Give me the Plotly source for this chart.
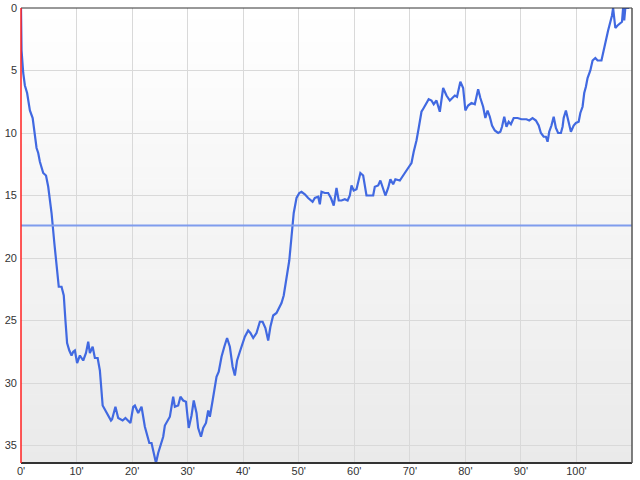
import plotly.graph_objects as go

# minutes and position values
minutes = [0, 0.1, 0.4, 0.7, 1.1, 1.6, 2.1, 2.3, 2.8, 3.1, 3.4, 4.0, 4.5, 4.9, 5.5, 6.0, 6.4, 6.8,
           7.3, 7.7, 8.0, 8.3, 8.7, 9.1, 9.4, 9.7, 10.1, 10.6, 11.2, 11.7, 12.1, 12.4, 12.9, 13.3,
           13.8, 14.2, 14.7, 15.7, 16.2, 16.4, 17.0, 17.5, 18.3, 18.8, 19.7, 20.2, 20.5, 21.1,
           21.7, 22.3, 23.1, 23.5, 24.3, 24.7, 25.1, 25.6, 25.9, 26.5, 26.8, 27.4, 27.7, 28.3,
           28.7, 29.2, 29.7, 30.2, 30.7, 31.1, 31.6, 31.9, 32.4, 32.8, 33.3, 33.7, 34.0, 34.5,
           34.8, 35.2, 35.6, 36.1, 36.6, 37.1, 37.6, 38.1, 38.5, 38.9, 39.4, 39.9, 40.3, 40.9,
           41.3, 41.8, 42.4, 43.0, 43.5, 44.0, 44.5, 44.9, 45.4, 46.0, 46.5, 46.9, 47.3, 47.8,
           48.3, 48.7, 49.1, 49.6, 50.1, 50.5, 51.1, 51.7, 52.5, 52.9, 53.5, 53.8, 54.1, 54.7,
           55.3, 55.8, 56.3, 56.8, 57.2, 57.7, 58.3, 58.8, 59.2, 59.5, 59.9, 60.4, 60.7, 61.1,
           61.6, 61.9, 62.2, 62.8, 63.4, 63.7, 64.3, 64.7, 65.2, 65.6, 66.1, 66.5, 67.0, 67.4,
           68.2, 68.6, 69.1, 69.7, 70.3, 70.7, 71.2, 71.6, 72.1, 72.5, 73.0, 73.4, 73.9, 74.3,
           74.8, 75.4, 76.0, 76.6, 77.2, 77.6, 78.1, 78.5, 79.1, 79.6, 80.0, 80.5, 81.1, 81.7,
           82.3, 82.7, 83.2, 83.6, 84.0, 84.4, 84.8, 85.3, 85.9, 86.3, 86.6, 87.0, 87.4, 87.8,
           88.2, 88.7, 89.4, 90.1, 91.0, 91.5, 92.1, 92.7, 93.2, 93.6, 94.1, 94.5, 94.8, 95.1,
           95.5, 95.9, 96.3, 96.7, 97.2, 97.5, 97.7, 98.1, 98.6, 99.0, 99.5, 99.9, 100.4, 100.7,
           101.1, 101.4, 101.7, 102.0, 102.5, 102.9, 103.4, 103.8, 104.5, 104.9, 105.3, 105.7,
           106.1, 106.4, 106.6, 106.8, 107.0, 107.4, 107.9, 108.2, 108.4, 108.6, 108.8, 109.5]
position = [0, 3.4, 5.2, 6.2, 6.8, 8.2, 8.8, 9.5, 11.2, 11.6, 12.3, 13.2, 13.4, 14.3, 16.4, 18.8,
            20.7, 22.3, 22.3, 23.0, 25.0, 26.8, 27.4, 27.8, 27.5, 27.4, 28.4, 27.8, 28.2, 27.6,
            26.7, 27.6, 27.1, 28.0, 28.0, 29.0, 31.8, 32.6, 33.0, 32.9, 31.9, 32.8, 33.0, 32.8,
            33.2, 31.9, 31.8, 32.4, 31.9, 33.5, 34.8, 34.8, 36.4, 35.6, 35.0, 34.3, 33.4, 33.0,
            32.7, 31.1, 31.9, 31.8, 31.1, 31.4, 31.5, 33.6, 32.6, 31.4, 32.4, 33.6, 34.3, 33.6,
            33.2, 32.2, 32.7, 31.4, 30.4, 29.5, 29.1, 27.9, 27.1, 26.4, 27.1, 28.7, 29.4, 28.2,
            27.5, 26.8, 26.3, 25.8, 26.0, 26.4, 26.0, 25.1, 25.1, 25.6, 26.6, 25.5, 24.6, 24.4,
            24.0, 23.6, 23.0, 21.5, 20.2, 18.3, 16.4, 15.2, 14.8, 14.7, 14.9, 15.2, 15.5, 15.2,
            15.1, 15.7, 14.7, 14.8, 14.8, 15.2, 15.8, 14.4, 15.4, 15.4, 15.3, 15.4, 15.0, 14.2,
            14.6, 14.5, 13.9, 13.2, 13.4, 14.2, 15.0, 15.0, 15.0, 14.3, 14.2, 13.8, 14.4, 15.0,
            14.4, 13.7, 14.1, 13.7, 13.8, 13.5, 13.2, 12.8, 12.4, 11.5, 10.6, 9.6, 8.3, 8.0, 7.6,
            7.3, 7.4, 7.7, 7.4, 8.3, 6.4, 7.0, 7.4, 7.2, 7.0, 7.1, 5.9, 6.4, 8.2, 7.8, 7.6, 7.7,
            6.5, 7.2, 7.9, 8.8, 8.2, 8.7, 9.4, 9.8, 10.0, 9.9, 9.5, 8.7, 9.5, 9.1, 9.3, 8.8, 8.8,
            8.9, 8.9, 9.0, 8.8, 9.0, 9.4, 10.0, 10.3, 10.3, 10.7, 9.9, 9.4, 8.7, 9.6, 10.0, 10.0,
            9.5, 8.8, 8.2, 9.1, 9.9, 9.4, 9.2, 9.1, 8.4, 7.9, 6.8, 6.3, 5.6, 5.0, 4.2, 4.0, 4.2,
            4.2, 3.5, 2.6, 1.8, 1.2, 0.6, 0.0, 1.1, 1.6, 1.4, 1.2, 1.1, 0.0, 1.0, 0.0, 0.0]
average = 17.4
x_ticks = [0, 10, 20, 30, 40, 50, 60, 70, 80, 90, 100]
x_tick_labels = ["0'", "10'", "20'", "30'", "40'", "50'", "60'", "70'", "80'", "90'", "100'"]
y_ticks = [0, 5, 10, 15, 20, 25, 30, 35]

X_MAX = 110
Y_MAX = 36.4

fig = go.Figure()
fig.add_trace(go.Scatter(x=minutes, y=position, mode="lines",
                         line=dict(color="#4169e1", width=2.2)))

# vertical gradient background (white -> light grey)
shapes = []
n = 40
for i in range(n):
    t = (i + 0.5) / n
    v = int(round(255 - t * (255 - 234)))
    shapes.append(dict(type="rect", xref="x domain", yref="y domain",
                       x0=0, x1=1, y0=1 - (i + 1) / n, y1=1 - i / n + 0.001,
                       fillcolor=f"rgb({v},{v},{v})", line=dict(width=0), layer="below"))
# average line
shapes.append(dict(type="line", xref="x domain", yref="y", x0=0, x1=1,
                   y0=average, y1=average, line=dict(color="#7f9ced", width=1.8),
                   layer="above"))
# borders
shapes.append(dict(type="line", xref="paper", yref="paper", x0=0, x1=1, y0=1, y1=1,
                   line=dict(color="#333333", width=1)))
shapes.append(dict(type="line", xref="paper", yref="paper", x0=0, x1=1, y0=0, y1=0,
                   line=dict(color="#333333", width=2)))
shapes.append(dict(type="line", xref="paper", yref="paper", x0=1, x1=1, y0=0, y1=1,
                   line=dict(color="#555555", width=1.5)))
shapes.append(dict(type="line", xref="paper", yref="paper", x0=0, x1=0, y0=0, y1=1,
                   line=dict(color="#ff2020", width=1.5)))

fig.update_layout(
    width=640, height=480,
    margin=dict(l=21, r=8, t=8, b=17),
    paper_bgcolor="white",
    plot_bgcolor="rgba(0,0,0,0)",
    showlegend=False,
    shapes=shapes,
    font=dict(family="Liberation Sans, Arial, sans-serif", size=11, color="#333333"),
)
fig.update_xaxes(range=[0, X_MAX], tickvals=x_ticks, ticktext=x_tick_labels,
                 showgrid=True, gridcolor="#d9d9d9", gridwidth=1, zeroline=False,
                 showline=False, ticks="", ticklabelstandoff=0, automargin=False)
fig.update_yaxes(range=[Y_MAX, 0], tickvals=y_ticks, showgrid=True,
                 gridcolor="#d9d9d9", gridwidth=1, zeroline=False, showline=False,
                 ticks="", ticklabelstandoff=3, automargin=False)

# remove the browser's default 8px page margin so the 640x480 figure fills the window
fig.write_html("out.html", config={"displayModeBar": False},
               post_script="document.body.style.margin='0';")
